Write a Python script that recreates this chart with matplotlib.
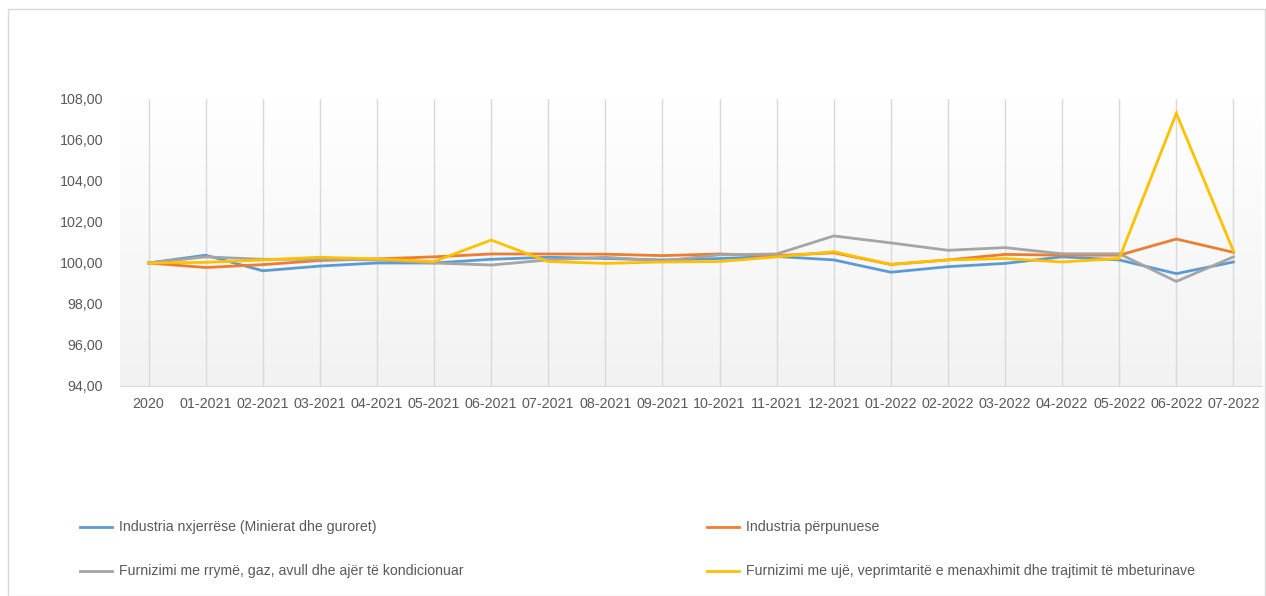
import numpy as np
import matplotlib
matplotlib.use("Agg")
import matplotlib.pyplot as plt
from matplotlib.lines import Line2D
from matplotlib.patches import Rectangle
from matplotlib import font_manager

names = {f.name for f in font_manager.fontManager.ttflist}
FONT = "Liberation Sans Narrow" if "Liberation Sans Narrow" in names else "Liberation Sans"
plt.rcParams['font.family'] = [FONT, 'DejaVu Sans']

categories = ["2020", "01-2021", "02-2021", "03-2021", "04-2021", "05-2021", "06-2021",
              "07-2021", "08-2021", "09-2021", "10-2021", "11-2021", "12-2021", "01-2022",
              "02-2022", "03-2022", "04-2022", "05-2022", "06-2022", "07-2022"]

nxjerrese = [100.00, 100.38, 99.62, 99.85, 100.00, 100.00, 100.18, 100.28, 100.22, 100.15,
             100.22, 100.32, 100.15, 99.55, 99.82, 99.98, 100.30, 100.15, 99.48, 100.05]
perpunuese = [100.00, 99.78, 99.92, 100.12, 100.20, 100.30, 100.44, 100.44, 100.43, 100.36,
              100.44, 100.36, 100.50, 99.93, 100.15, 100.42, 100.38, 100.38, 101.17, 100.52]
rryme = [100.00, 100.30, 100.18, 100.18, 100.15, 100.00, 99.90, 100.15, 100.28, 100.10,
         100.40, 100.44, 101.32, 100.98, 100.62, 100.75, 100.45, 100.45, 99.10, 100.30]
uje = [100.00, 100.03, 100.15, 100.28, 100.20, 100.07, 101.12, 100.07, 99.98, 100.05,
       100.07, 100.30, 100.55, 99.93, 100.15, 100.22, 100.05, 100.22, 107.30, 100.58]

series_names = ["Industria nxjerrëse (Minierat dhe guroret)",
                "Industria përpunuese",
                "Furnizimi me rrymë, gaz, avull dhe ajër të kondicionuar",
                "Furnizimi me ujë, veprimtaritë e menaxhimit dhe trajtimit të mbeturinave"]
colors = ["#5B9BD5", "#ED7D31", "#A5A5A5", "#FFC000"]
yticks = [94, 96, 98, 100, 102, 104, 106, 108]

W, H = 1266, 596
fig = plt.figure(figsize=(W / 100, H / 100), dpi=100)

# chart border
fig.patches.append(Rectangle((8 / W, 0), (W - 9) / W, (H - 9) / H, transform=fig.transFigure,
                             fill=False, edgecolor="#D9D9D9", linewidth=1.0))

ax = fig.add_axes([120 / W, 1 - 386 / H, 1142 / W, (386 - 99) / H])
x = np.arange(len(categories))
ax.set_xlim(-0.5, len(categories) - 0.5)
ax.set_ylim(94, 108)

# gradient background
grad = np.linspace(0, 1, 256).reshape(-1, 1)
top = np.array([1.0, 1.0, 1.0])
bot = np.array([0.949, 0.949, 0.949])
img = top + (bot - top) * grad[:, :, None] * np.ones((1, 1, 3))
ax.imshow(img, extent=[-0.5, len(categories) - 0.5, 94, 108], aspect="auto", zorder=0,
          origin="upper")

for xi in x:
    ax.axvline(xi, color="#D9D9D9", lw=1.0, zorder=1)

data = [nxjerrese, perpunuese, rryme, uje]
for vals, c, n in zip(data, colors, series_names):
    ax.plot(x, vals, color=c, lw=2.0, zorder=3, label=n, solid_joinstyle="miter")

ax.set_xticks(x)
ax.set_xticklabels(categories, fontsize=10.3, color="#595959")
ax.set_yticks(yticks)
ax.set_yticklabels([f"{v:.2f}".replace(".", ",") for v in yticks], fontsize=10.3, color="#595959")
ax.tick_params(axis="both", length=0, pad=8)
ax.tick_params(axis="y", pad=12)
for s in ["top", "right", "left"]:
    ax.spines[s].set_visible(False)
ax.spines["bottom"].set_color("#D9D9D9")
ax.spines["bottom"].set_zorder(2)

# legend (manual placement)
leg_pos = [(80, 527), (707, 527), (80, 571), (707, 571)]
for (lx, ly), c, n in zip(leg_pos, colors, series_names):
    fy = 1 - ly / H
    fig.lines.append(Line2D([lx / W, (lx + 32) / W], [fy, fy], transform=fig.transFigure,
                            color=c, lw=2.0))
    fig.text((lx + 39) / W, fy, n, fontsize=10.2, color="#595959", va="center", ha="left")

fig.savefig("out.png", dpi=100, facecolor="white")
